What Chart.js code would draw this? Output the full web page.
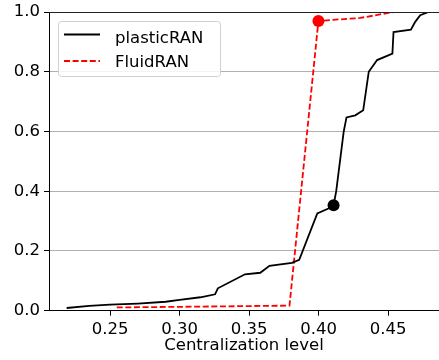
<!DOCTYPE html>
<html>
<head>
<meta charset="utf-8">
<script src="https://cdn.jsdelivr.net/npm/chart.js@4"></script>
<style>
  body { margin: 0; background: #fff; }
  canvas { display: block; }
</style>
</head>
<body>
<canvas id="cdfChart" width="439" height="360"></canvas>
<script>
// plasticRAN curve
const plasticX = [0.2188, 0.235, 0.25, 0.27, 0.29, 0.30, 0.315, 0.3255, 0.3275, 0.347, 0.358, 0.3646, 0.3807, 0.386,
  0.399, 0.407, 0.4107, 0.4126, 0.418, 0.420, 0.4263, 0.432, 0.436, 0.442, 0.453, 0.4538, 0.4663, 0.4694, 0.473, 0.479];
const plasticY = [0.009, 0.016, 0.02, 0.024, 0.03, 0.036, 0.045, 0.055, 0.075, 0.122, 0.127, 0.15, 0.16, 0.17,
  0.326, 0.342, 0.353, 0.40, 0.60, 0.647, 0.654, 0.671, 0.80, 0.839, 0.861, 0.933, 0.941, 0.967, 0.989, 1.0];

// FluidRAN curve
const fluidX = [0.2548, 0.30, 0.34, 0.379, 0.3998, 0.408, 0.4298, 0.4538];
const fluidY = [0.011, 0.013, 0.015, 0.017, 0.97, 0.973, 0.98, 1.0];

// highlighted points
const plasticMark = [0.4107, 0.353];
const fluidMark = [0.3998, 0.97];

const xTicks = [0.25, 0.30, 0.35, 0.40, 0.45];
const yTicks = [0.0, 0.2, 0.4, 0.6, 0.8, 1.0];
const seriesNames = ["plasticRAN", "FluidRAN"];

const FONT = "DejaVu Sans";
Chart.defaults.font.family = FONT;
Chart.defaults.font.size = 16.5;
Chart.defaults.color = "#000";

function toPoints(xs, ys) {
  return xs.map((x, i) => ({ x: x, y: ys[i] }));
}

// top spine
const framePlugin = {
  id: "frame",
  afterDatasetsDraw(chart) {
    const { ctx, chartArea } = chart;
    ctx.save();
    ctx.strokeStyle = "#222";
    ctx.lineWidth = 1;
    ctx.beginPath();
    ctx.moveTo(chartArea.left, Math.round(chartArea.top) + 0.5);
    ctx.lineTo(chartArea.right, Math.round(chartArea.top) + 0.5);
    ctx.stroke();
    ctx.restore();
  }
};

// matplotlib style legend box in the upper left
const legendPlugin = {
  id: "boxLegend",
  afterDraw(chart) {
    const ctx = chart.ctx;
    ctx.save();
    ctx.beginPath();
    ctx.roundRect(58.5, 21.5, 162, 55, 3);
    ctx.fillStyle = "rgba(255,255,255,0.85)";
    ctx.fill();
    ctx.strokeStyle = "#d0d0d0";
    ctx.lineWidth = 1;
    ctx.stroke();

    const rows = [
      { y: 34.5, base: 42.7, color: "#000", dash: [] },
      { y: 61, base: 66.8, color: "#ff0000", dash: [6, 2.6] }
    ];
    rows.forEach((r, i) => {
      ctx.beginPath();
      ctx.setLineDash(r.dash);
      ctx.strokeStyle = r.color;
      ctx.lineWidth = 1.8;
      ctx.moveTo(64, r.y);
      ctx.lineTo(100, r.y);
      ctx.stroke();
      ctx.setLineDash([]);
      ctx.fillStyle = "#000";
      ctx.font = "16.5px '" + FONT + "'";
      ctx.textBaseline = "alphabetic";
      ctx.fillText(seriesNames[i], 115, r.base);
    });
    ctx.restore();
  }
};

new Chart(document.getElementById("cdfChart"), {
  type: "line",
  data: {
    datasets: [
      {
        label: seriesNames[0],
        data: toPoints(plasticX, plasticY),
        borderColor: "#000",
        borderWidth: 1.8,
        pointRadius: 0,
        tension: 0
      },
      {
        label: seriesNames[1],
        data: toPoints(fluidX, fluidY),
        borderColor: "#ff0000",
        borderWidth: 1.8,
        borderDash: [6, 2.6],
        pointRadius: 0,
        tension: 0
      },
      {
        label: "plasticMark",
        data: [{ x: plasticMark[0], y: plasticMark[1] }],
        showLine: false,
        pointRadius: 6,
        pointBackgroundColor: "#000",
        pointBorderColor: "#000",
        pointBorderWidth: 0
      },
      {
        label: "fluidMark",
        data: [{ x: fluidMark[0], y: fluidMark[1] }],
        showLine: false,
        pointRadius: 6,
        pointBackgroundColor: "#ff0000",
        pointBorderColor: "#ff0000",
        pointBorderWidth: 0
      }
    ]
  },
  options: {
    responsive: false,
    devicePixelRatio: 1,
    animation: false,
    layout: { autoPadding: false, padding: { top: 12, right: 0, left: 0, bottom: 0 } },
    plugins: {
      legend: { display: false },
      tooltip: { enabled: false }
    },
    scales: {
      x: {
        type: "linear",
        min: 0.2061,
        max: 0.4865,
        afterBuildTicks: (axis) => { axis.ticks = xTicks.map(v => ({ value: v })); },
        afterFit: (axis) => {
          axis.height = 49.3;
          axis.paddingLeft = 0;
          axis.paddingRight = 0;
        },
        ticks: {
          padding: 4,
          maxRotation: 0,
          callback: (v) => Number(v).toFixed(2)
        },
        grid: {
          drawOnChartArea: false,
          drawTicks: true,
          tickLength: 5,
          tickColor: "#000"
        },
        border: { color: "#000", width: 1 },
        title: {
          display: true,
          text: "Centralization level",
          font: { size: 16.5 },
          padding: { top: 0, bottom: 4 }
        }
      },
      y: {
        min: 0,
        max: 1,
        afterBuildTicks: (axis) => { axis.ticks = yTicks.map(v => ({ value: v })); },
        afterFit: (axis) => {
          axis.width = 49;
          axis.paddingTop = 0;
          axis.paddingBottom = 0;
        },
        ticks: {
          padding: 4,
          callback: (v) => Number(v).toFixed(1)
        },
        grid: {
          color: "#b0b0b0",
          lineWidth: 1,
          tickLength: 5,
          tickColor: "#000"
        },
        border: { color: "#000", width: 1 }
      }
    }
  },
  plugins: [framePlugin, legendPlugin]
});
</script>
</body>
</html>
